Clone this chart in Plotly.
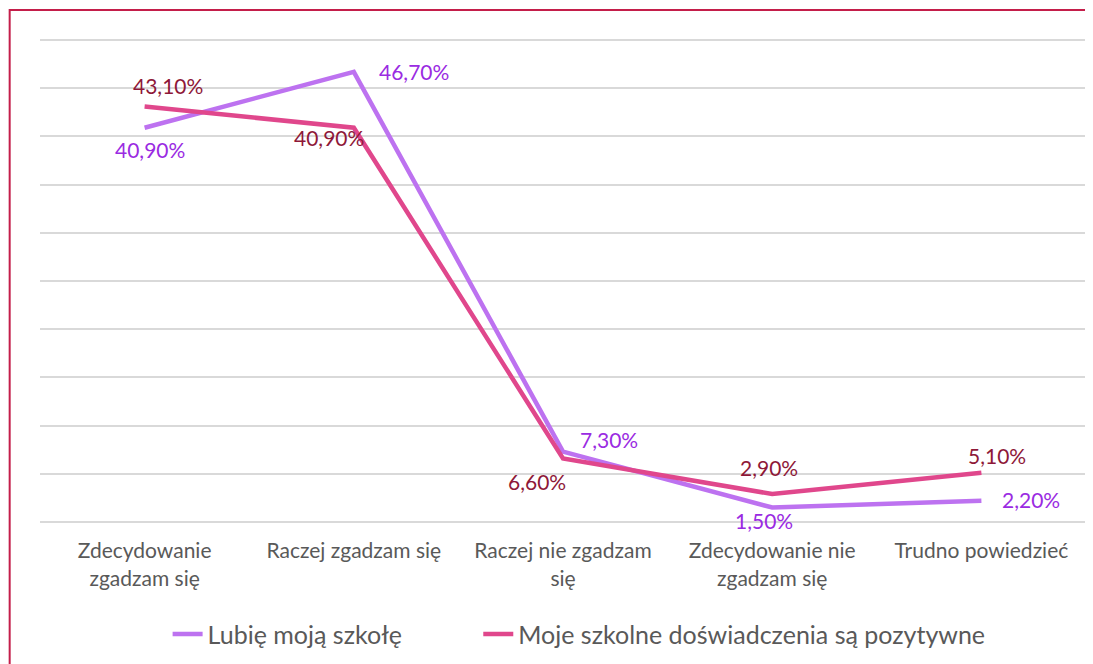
import plotly.graph_objects as go

# kategorie odpowiedzi
kategorie = ["Zdecydowanie<br>zgadzam się", "Raczej zgadzam się", "Raczej nie zgadzam<br>się",
             "Zdecydowanie nie<br>zgadzam się", "Trudno powiedzieć"]
lubie_szkole = [40.9, 46.7, 7.3, 1.5, 2.2]
pozytywne = [43.1, 40.9, 6.6, 2.9, 5.1]
nazwy = ["Lubię moją szkołę", "Moje szkolne doświadczenia są pozytywne"]

FONT = "Lato, 'Open Sans', sans-serif"

def pct(v):
    return f"{v:.2f}%".replace(".", ",")

fig = go.Figure()
fig.add_trace(go.Scatter(x=kategorie, y=lubie_szkole, mode="lines", name=nazwy[0],
                         line=dict(color="#BD72F0", width=4.5), legend="legend"))
fig.add_trace(go.Scatter(x=kategorie, y=pozytywne, mode="lines", name=nazwy[1],
                         line=dict(color="#E0478C", width=4.5), legend="legend2"))

# etykiety danych (przesuniecia w pikselach)
off_fiolet = [(5, -22), (60, 0), (46, 12), (-8, -13), (50, 1)]
off_roz = [(23, 21), (-25, -10), (-26, -23), (-3, 27), (16, 17)]
for seria, offs, kolor in [(lubie_szkole, off_fiolet, "#9A2BE2"), (pozytywne, off_roz, "#8E1838")]:
    for k, v, (dx, dy) in zip(kategorie, seria, offs):
        fig.add_annotation(x=k, y=v, text=pct(v), showarrow=False, xshift=dx, yshift=dy,
                           font=dict(family=FONT, size=21, color=kolor))

# dwie legendy obok siebie, zeby odstep byl jak w oryginale
leg = dict(orientation="h", xanchor="left", y=-0.232, yanchor="middle",
           font=dict(size=25, color="#595959"))

# strona ma 8px marginesu, stad mniejsze wymiary
fig.update_layout(
    width=1085, height=656,
    paper_bgcolor="white", plot_bgcolor="white",
    margin=dict(l=32, r=7, t=30, b=136),
    font=dict(family=FONT, color="#595959"),
    showlegend=True,
    legend=dict(leg, x=0.122),
    legend2=dict(leg, x=0.419),
    xaxis=dict(showgrid=False, showline=False, ticks="outside", ticklen=10,
               tickcolor="rgba(0,0,0,0)", tickfont=dict(size=21, color="#595959"),
               range=[-0.5, 4.5]),
    yaxis=dict(range=[0, 50.21], dtick=5, showticklabels=False, gridcolor="#D9D9D9",
               gridwidth=2, zeroline=True, zerolinecolor="#D9D9D9", zerolinewidth=2),
)

# ramka wokol wykresu
fig.add_shape(type="rect", xref="paper", yref="paper", x0=-0.029, x1=1.05, y0=-0.4, y1=1.058,
              line=dict(color="#C41E4A", width=2), layer="above")

fig.write_html("out.html")
